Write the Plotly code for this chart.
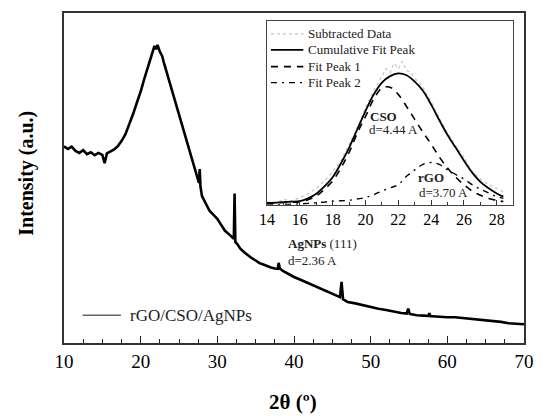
import plotly.graph_objects as go

# ---------------- data ----------------
two_theta = [10.0, 10.5, 11.0, 11.5, 12.0, 12.5, 13.0, 13.5, 14.0, 14.5, 15.0, 15.3, 15.6,
             16.0, 16.5, 17.0, 17.5, 18.0, 18.5, 19.0, 19.5, 20.0, 20.5, 21.0, 21.5, 21.8,
             22.0, 22.2, 22.5, 22.8, 23.0, 23.5, 24.0, 24.5, 25.0, 25.5, 26.0, 26.5, 27.0,
             27.4, 27.6, 27.7, 27.8, 28.0, 28.5, 29.0, 29.5, 30.0, 30.5, 31.0, 31.5, 32.0,
             32.15, 32.25, 32.35, 32.6, 33.0, 33.5, 34.0, 34.5, 35.0, 35.5, 36.0, 36.5, 37.0,
             37.5, 37.9, 38.0, 38.15, 38.5, 39.0, 39.5, 40.0, 41.0, 42.0, 43.0, 44.0, 45.0,
             45.8, 46.0, 46.2, 46.4, 46.6, 47.0, 48.0, 49.0, 50.0, 51.0, 52.0, 53.0, 54.0,
             54.7, 54.9, 55.1, 56.0, 57.0, 57.5, 57.65, 57.8, 58.0, 59.0, 60.0, 61.0, 62.0,
             63.0, 64.0, 65.0, 66.0, 67.0, 68.0, 69.0, 70.0]
intensity = [59.6, 58.8, 59.5, 58.2, 57.6, 58.4, 57.2, 57.8, 56.9, 57.6, 57.0, 54.5, 57.5,
             58.0, 58.6, 59.6, 61.2, 63.2, 66.0, 69.3, 72.8, 76.2, 80.3, 84.3, 88.0, 90.0,
             89.0, 90.3, 88.3, 87.0, 85.2, 81.2, 77.0, 73.2, 69.3, 65.2, 61.1, 57.0, 53.0,
             49.8, 48.5, 52.7, 47.4, 44.5, 42.0, 40.0, 38.8, 37.6, 35.8, 34.0, 33.0, 32.0,
             31.6, 45.3, 30.6, 30.0, 28.6, 27.5, 26.5, 25.7, 25.0, 24.2, 23.8, 23.3, 22.9,
             22.6, 22.5, 24.3, 22.6, 21.9, 21.2, 20.6, 20.0, 19.0, 18.0, 17.0, 16.0, 15.0,
             14.0, 13.9, 18.5, 13.2, 13.0, 12.4, 12.0, 11.4, 10.8, 10.4, 10.0, 9.5, 9.1,
             8.9, 10.4, 8.8, 8.4, 8.3, 8.2, 9.0, 8.1, 8.1, 7.9, 7.8, 7.8, 7.6,
             7.4, 7.2, 6.9, 6.6, 6.4, 6.0, 5.8, 5.7]
main_name = "rGO/CSO/AgNPs"

# inset: peak fitting
fit_x = [14.0, 14.5, 15.0, 15.5, 16.0, 16.5, 17.0, 17.5, 18.0, 18.5, 19.0, 19.5, 20.0, 20.5,
         21.0, 21.5, 22.0, 22.5, 23.0, 23.5, 24.0, 24.5, 25.0, 25.5, 26.0, 26.5, 27.0, 27.5,
         28.0, 28.4]
cumulative = [0.010, 0.012, 0.015, 0.017, 0.020, 0.035, 0.060, 0.100, 0.150, 0.225, 0.310,
              0.410, 0.510, 0.600, 0.665, 0.700, 0.715, 0.705, 0.670, 0.620, 0.545, 0.460,
              0.380, 0.310, 0.240, 0.175, 0.125, 0.090, 0.062, 0.045]
fit_peak1 = [0.010, 0.011, 0.013, 0.014, 0.016, 0.028, 0.048, 0.085, 0.130, 0.200, 0.285,
             0.390, 0.480, 0.575, 0.635, 0.640, 0.600, 0.535, 0.465, 0.395, 0.330, 0.260,
             0.200, 0.150, 0.110, 0.075, 0.052, 0.035, 0.024, 0.018]
fit_peak2 = [0.000, 0.001, 0.002, 0.003, 0.005, 0.008, 0.011, 0.015, 0.020, 0.022, 0.025,
             0.032, 0.040, 0.055, 0.075, 0.092, 0.110, 0.155, 0.190, 0.220, 0.230, 0.220,
             0.190, 0.165, 0.140, 0.110, 0.085, 0.065, 0.045, 0.035]
sub_x = [14.0, 14.5, 15.0, 15.5, 16.0, 16.5, 17.0, 17.5, 18.0, 18.5, 19.0, 19.5, 20.0, 20.5,
         21.0, 21.25, 21.5, 21.75, 22.0, 22.25, 22.5, 22.75, 23.0, 23.5, 24.0, 24.5, 25.0,
         25.5, 26.0, 26.5, 27.0, 27.5, 28.0, 28.4]
subtracted = [0.015, 0.010, 0.030, 0.020, 0.040, 0.060, 0.090, 0.130, 0.180, 0.240, 0.330,
              0.420, 0.530, 0.620, 0.700, 0.740, 0.720, 0.770, 0.740, 0.780, 0.730, 0.720,
              0.690, 0.640, 0.560, 0.470, 0.390, 0.320, 0.260, 0.180, 0.140, 0.110, 0.090,
              0.070]

main_ticks = [10, 20, 30, 40, 50, 60, 70]
inset_ticks = [14, 16, 18, 20, 22, 24, 26, 28]
inset_names = ["Subtracted Data", "Cumulative Fit Peak", "Fit Peak 1", "Fit Peak 2"]

# ---------------- layout helpers ----------------
W, H = 545, 416
L, R, T, B = 64, 533, 11, 343


def px(xp):
    return (xp - L) / (R - L)


def py(yp):
    return (B - yp) / (B - T)


FONT = "Liberation Serif"

sub_style = dict(color="#c4c4c4", width=1.2, dash="dot")
cum_style = dict(color="#000000", width=1.8)
p1_style = dict(color="#000000", width=1.6, dash="7px,6px")
p2_style = dict(color="#000000", width=1.4, dash="6px,5px,2px,5px")

fig = go.Figure()

fig.add_trace(go.Scatter(
    x=two_theta, y=intensity, mode="lines", name=main_name, showlegend=False,
    line=dict(color="#000000", width=2.6), xaxis="x", yaxis="y"))

fig.add_trace(go.Scatter(x=sub_x, y=subtracted, mode="lines", name=inset_names[0],
                         line=sub_style, xaxis="x2", yaxis="y2", showlegend=False))
fig.add_trace(go.Scatter(x=fit_x, y=cumulative, mode="lines", name=inset_names[1],
                         line_shape="spline", line=cum_style, xaxis="x2", yaxis="y2",
                         showlegend=False))
fig.add_trace(go.Scatter(x=fit_x, y=fit_peak1, mode="lines", name=inset_names[2],
                         line_shape="spline", line=p1_style, xaxis="x2", yaxis="y2",
                         showlegend=False))
fig.add_trace(go.Scatter(x=fit_x, y=fit_peak2, mode="lines", name=inset_names[3],
                         line_shape="spline", line=p2_style, xaxis="x2", yaxis="y2",
                         showlegend=False))

ix0, ix1, iy0, iy1 = 271, 522, 19, 204

fig.update_layout(
    width=W, height=H,
    margin=dict(l=L, r=W - R, t=T, b=H - B),
    paper_bgcolor="white", plot_bgcolor="white",
    font=dict(family=FONT, color="#000000"),
    showlegend=False,
    xaxis=dict(range=[10, 70], tickvals=main_ticks, ticks="inside", ticklen=7,
               tickwidth=1.3, tickcolor="#222", showgrid=False, zeroline=False,
               showline=True, mirror=True, linecolor="#333", linewidth=1.5,
               tickfont=dict(size=19, family=FONT),
               minor=dict(dtick=2.5, tick0=10, ticks="inside", ticklen=4,
                          tickcolor="#222", showgrid=False)),
    yaxis=dict(range=[0, 100], showticklabels=False, ticks="", showgrid=False,
               zeroline=False, showline=True, mirror=True, linecolor="#333",
               linewidth=1.5),
    xaxis2=dict(domain=[px(ix0), px(ix1)], anchor="y2", range=[14, 29],
                tickvals=inset_ticks, ticks="inside", ticklen=5, tickcolor="#333",
                showgrid=False, zeroline=False, showline=True, mirror=True,
                linecolor="#444", linewidth=1.4, tickfont=dict(size=16, family=FONT),
                minor=dict(dtick=1, tick0=14, ticks="inside", ticklen=3,
                           tickcolor="#333", showgrid=False)),
    yaxis2=dict(domain=[py(iy1), py(iy0)], anchor="x2", range=[0, 1],
                showticklabels=False, ticks="", showgrid=False, zeroline=False,
                showline=True, mirror=True, linecolor="#444", linewidth=1.4),
)

# main legend (thin gray sample as in the reference)
fig.add_shape(type="line", xref="paper", yref="paper", x0=px(83), x1=px(122),
              y0=py(315), y1=py(315), line=dict(color="#666666", width=1.5))
fig.add_annotation(text=main_name, x=px(129), y=py(315), xref="paper", yref="paper",
                   xanchor="left", yanchor="middle", showarrow=False,
                   font=dict(size=17, family=FONT, color="#222"))

# inset legend
rows_y = [32, 48, 65, 81]
styles = [sub_style, cum_style, p1_style, p2_style]
for name, yy, st in zip(inset_names, rows_y, styles):
    fig.add_shape(type="line", xref="paper", yref="paper", x0=px(275), x1=px(308),
                  y0=py(yy), y1=py(yy), line=dict(color=st["color"], width=st["width"],
                                                  dash=st.get("dash", "solid")))
    fig.add_annotation(text=name, x=px(311), y=py(yy), xref="paper", yref="paper",
                       xanchor="left", yanchor="middle", showarrow=False,
                       font=dict(size=13, family=FONT, color="#222"))

annos = [
    dict(text="<b>CSO</b>", x=px(374), y=py(115), size=13),
    dict(text="d=4.44 A", x=px(373), y=py(128), size=13),
    dict(text="<b>rGO</b>", x=px(423), y=py(176), size=13),
    dict(text="d=3.70 A", x=px(424), y=py(192), size=13),
    dict(text="<b>AgNPs</b> (111)", x=px(290), y=py(243), size=13),
    dict(text="d=2.36 A", x=px(290), y=py(260), size=13),
]
for a in annos:
    fig.add_annotation(text=a["text"], x=a["x"], y=a["y"], xref="paper", yref="paper",
                       xanchor="left", yanchor="middle", showarrow=False,
                       font=dict(size=a["size"], family=FONT, color="#222"))

fig.add_annotation(text="<b>Intensity (a.u.)</b>", x=px(25), y=py(172), xref="paper",
                   yref="paper", textangle=-90, showarrow=False, xanchor="center",
                   yanchor="middle", font=dict(size=20, family=FONT, color="#000"))
fig.add_annotation(text="<b>2θ (º)</b>", x=px(297), y=py(402), xref="paper",
                   yref="paper", showarrow=False, xanchor="center", yanchor="middle",
                   font=dict(size=21, family=FONT, color="#000"))

fig.write_html("out.html", config={"displayModeBar": False},
               post_script="document.body.style.margin='0px';")
